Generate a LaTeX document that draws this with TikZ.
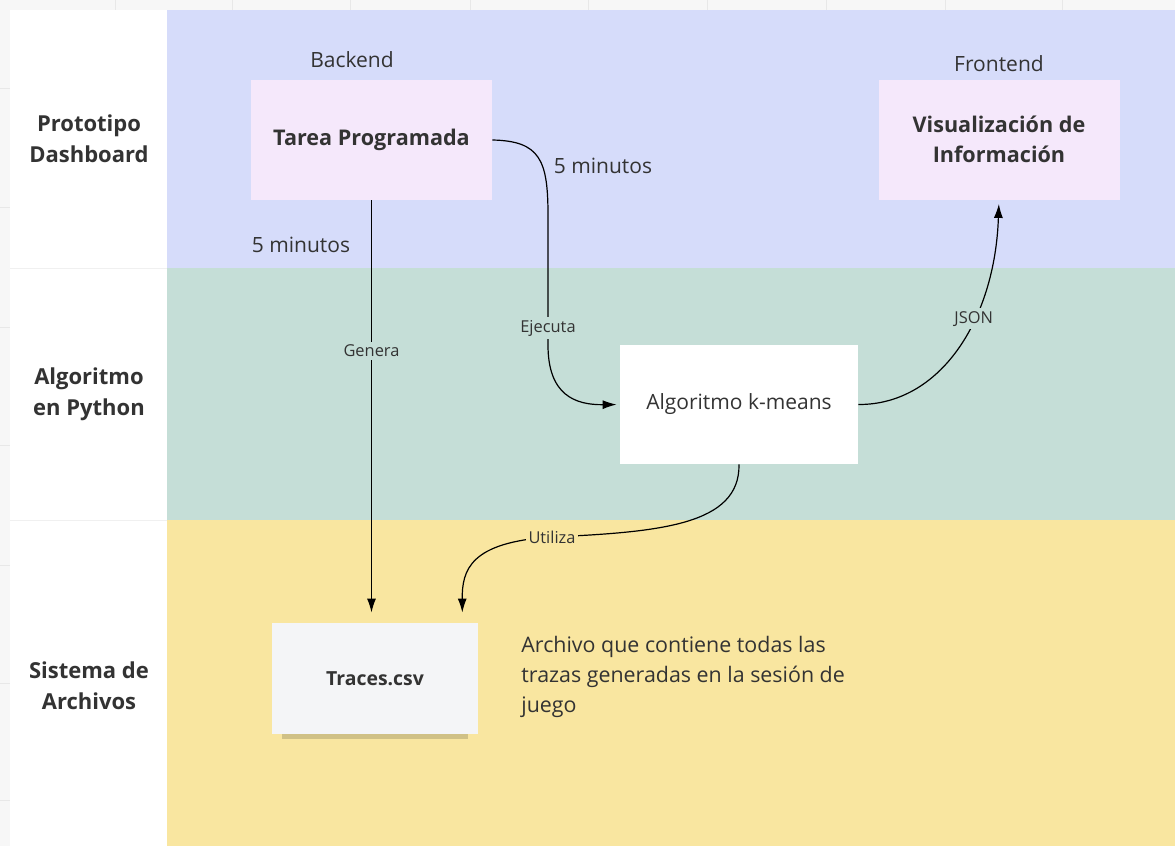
\documentclass[tikz,border=0pt]{standalone}
\usepackage{fontspec}
\setmainfont{Open Sans}
\usetikzlibrary{arrows.meta,shadows}
\definecolor{laneblue}{HTML}{D6DCFA}
\definecolor{lanegreen}{HTML}{C5DED7}
\definecolor{laneyellow}{HTML}{F9E6A0}
\definecolor{boxpink}{HTML}{F5E8FB}
\definecolor{notegray}{HTML}{F4F5F7}
\definecolor{ink}{HTML}{333333}
\begin{document}
\begin{tikzpicture}[x=0.5pt,y=-0.5pt,
every node/.style={text=ink, align=center, font=\fontsize{10.5}{15}\selectfont},
lanehead/.style={font=\fontsize{11}{15.5}\selectfont\bfseries},
taskbox/.style={fill=boxpink, minimum width=120.5pt, minimum height=60pt,
	font=\fontsize{10.8}{15}\selectfont\bfseries},
procbox/.style={fill=white, minimum width=119pt, minimum height=59.5pt},
notebox/.style={fill=notegray, minimum width=103pt, minimum height=55.5pt,
	font=\fontsize{9.7}{12}\selectfont\bfseries,
	drop shadow={shadow xshift=0pt, shadow yshift=-6pt, shadow scale=0.9, opacity=0.16, fill=black}},
lbl/.style={font=\fontsize{8.2}{9}\selectfont, inner sep=1.5pt},
arr/.style={draw=black, line width=0.6pt, -{Latex[length=7pt,width=4.5pt]}}]
\useasboundingbox (0,0) rectangle (1175,846);
\fill[gray!6] (0,0) rectangle (1175,846);
\foreach \gx in {115,232,350,470,588,707,826,945,1062}
	\draw[gray!18] (\gx,0) -- (\gx,10);
\foreach \gy in {88,207,327,445,565,683,800}
	\draw[gray!18] (0,\gy) -- (10,\gy);
\fill[white] (10,10) rectangle (167,846);
\fill[laneblue] (167,10) rectangle (1175,268);
\fill[lanegreen] (167,268) rectangle (1175,520);
\fill[laneyellow] (167,520) rectangle (1175,846);
\draw[gray!12] (10,268) -- (167,268) (10,520) -- (167,520);
\node[lanehead] (h1) at (89,139) {Prototipo\\Dashboard};
\node[lanehead] (h2) at (89,394) {Algoritmo\\en Python};
\node[lanehead] (h3) at (89,686) {Sistema de\\Archivos};
\node[taskbox] (tp) at (371.5,140) {Tarea Programada};
\node[taskbox] (vi) at (999,139.5) {Visualización de\\Información};
\node[procbox] (km) at (739,404.5) {Algoritmo k-means};
\node[notebox] (tr) at (375,678.5) {Traces.csv};
\node (be) at (352,60) {Backend};
\node (fe) at (999,64) {Frontend};
\node (m1) at (301,245) {5 minutos};
\node (m2) at (603,166) {5 minutos};
\node[align=left, anchor=north west, inner sep=0pt, font=\fontsize{10.7}{15}\selectfont] (nt) at (521,636)
	{Archivo que contiene todas las\\trazas generadas en la sesión de\\juego};
\draw[arr, shorten >=5pt] (tp.south) -- node[lbl, fill=lanegreen, pos=0.357]{Genera} (tp.south |- tr.north);
\draw[arr, shorten >=1.5pt] (tp.east) .. controls (540,141) and (548,160) .. (548,215)
	-- node[lbl, fill=lanegreen, pos=0.87]{Ejecuta} (548,345)
	.. controls (548,395) and (575,405) .. (km.west);
\draw[arr, shorten >=2pt] (km.east) .. controls (940,405) and (995,320) .. node[lbl, fill=lanegreen, pos=0.62]{JSON} (vi.south);
\draw[arr, shorten >=5pt] (km.south) .. controls (740,525) and (660,532) .. (552,537)
	node[lbl, fill=laneyellow]{Utiliza}
	.. controls (470,542) and (462,570) .. ([xshift=-8pt]tr.north east);
\end{tikzpicture}
\end{document}
